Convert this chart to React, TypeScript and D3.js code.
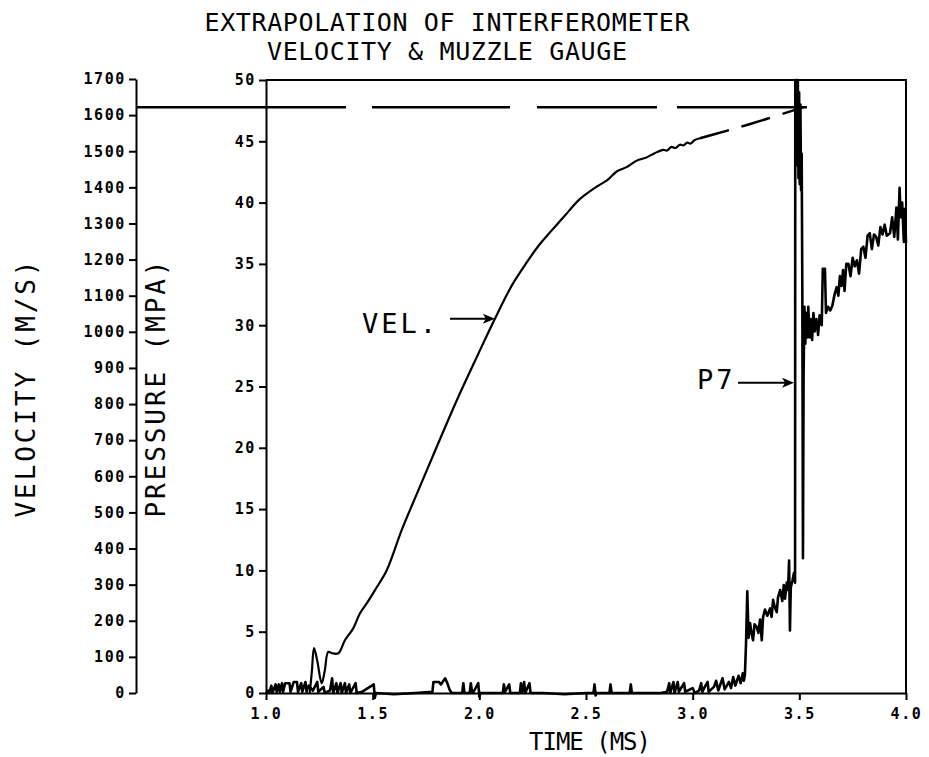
import * as d3 from "d3";
import React, { useEffect, useRef } from "react";

// time axis (ms) and tick values
const timeTicks = [1.0, 1.5, 2.0, 2.5, 3.0, 3.5, 4.0];
const pressureTicks = [0, 5, 10, 15, 20, 25, 30, 35, 40, 45, 50];
const velocityTicks = d3.range(0, 1800, 100);

// interferometer velocity (m/s), solid part
const velTime = [1.205, 1.215, 1.225, 1.24, 1.261, 1.275, 1.292, 1.31, 1.339, 1.37, 1.409, 1.44, 1.472, 1.511, 1.566, 1.636, 1.714, 1.8, 1.894, 1.988, 2.073, 2.152, 2.222, 2.284, 2.394, 2.472, 2.55, 2.6, 2.644, 2.69, 2.738, 2.78, 2.82, 2.862, 2.88, 2.9, 2.92, 2.94, 2.956, 2.975, 2.99, 3.01, 3.034];
const velValue = [0, 60, 124, 90, 27, 60, 114, 110, 110, 146, 179, 220, 248, 285, 340, 451, 561, 681, 810, 930, 1036, 1128, 1192, 1243, 1317, 1368, 1402, 1420, 1444, 1456, 1474, 1482, 1494, 1504, 1502, 1512, 1509, 1518, 1516, 1524, 1521, 1531, 1536];

// dashed extrapolation to the muzzle
const extTime = [3.034, 3.15, 3.25, 3.35, 3.45, 3.52];
const extValue = [1536, 1555, 1572, 1590, 1609, 1622];
const muzzleVelocity = 1622;

// muzzle gauge P7 (MPa)
const p7Time = [1.0, 1.01, 1.015, 1.025, 1.03, 1.045, 1.05, 1.06, 1.065, 1.075, 1.08, 1.09, 1.11, 1.115, 1.13, 1.145, 1.15, 1.165, 1.17, 1.185, 1.19, 1.2, 1.22, 1.24, 1.245, 1.27, 1.275, 1.3, 1.31, 1.315, 1.33, 1.335, 1.35, 1.355, 1.37, 1.375, 1.39, 1.395, 1.42, 1.425, 1.45, 1.505, 1.51, 1.515, 1.6, 1.7, 1.78, 1.785, 1.81, 1.82, 1.84, 1.85, 1.86, 1.87, 1.92, 1.925, 1.93, 1.955, 1.96, 1.965, 1.97, 1.995, 2.0, 2.005, 2.11, 2.115, 2.12, 2.14, 2.145, 2.19, 2.195, 2.2, 2.21, 2.215, 2.235, 2.24, 2.3, 2.4, 2.5, 2.535, 2.54, 2.545, 2.55, 2.61, 2.615, 2.62, 2.705, 2.71, 2.715, 2.85, 2.88, 2.89, 2.895, 2.91, 2.915, 2.93, 2.935, 2.96, 2.965, 3.0, 3.01, 3.03, 3.04, 3.045, 3.06, 3.07, 3.075, 3.1, 3.11, 3.12, 3.14, 3.15, 3.17, 3.18, 3.19, 3.2, 3.215, 3.225, 3.235, 3.24, 3.245, 3.25, 3.256, 3.262, 3.269, 3.276, 3.283, 3.29, 3.3, 3.308, 3.316, 3.324, 3.33, 3.339, 3.35, 3.363, 3.37, 3.377, 3.385, 3.394, 3.4, 3.41, 3.42, 3.427, 3.433, 3.441, 3.447, 3.452, 3.456, 3.46, 3.468, 3.475, 3.48, 3.481, 3.484, 3.487, 3.49, 3.493, 3.496, 3.499, 3.502, 3.505, 3.508, 3.511, 3.514, 3.517, 3.52, 3.524, 3.528, 3.532, 3.537, 3.542, 3.548, 3.553, 3.56, 3.566, 3.572, 3.58, 3.588, 3.595, 3.605, 3.61, 3.62, 3.625, 3.635, 3.645, 3.655, 3.665, 3.675, 3.683, 3.69, 3.698, 3.705, 3.712, 3.72, 3.73, 3.74, 3.75, 3.76, 3.77, 3.78, 3.79, 3.8, 3.81, 3.82, 3.83, 3.84, 3.85, 3.86, 3.87, 3.88, 3.89, 3.9, 3.91, 3.925, 3.935, 3.945, 3.955, 3.962, 3.97, 3.975, 3.982, 3.99, 3.995, 4.0];
const p7Value = [0, 0.2, 0, 0.6, 0, 0.7, 0.1, 0.7, 0.1, 0.8, 0.1, 0.8, 0.8, 0.1, 0.9, 0.9, 0.1, 0.8, 0.1, 0.9, 0.1, 0.6, 0.2, 0.9, 0.1, 0.5, 0, 0.2, 1.2, 0, 0.8, 0, 0.8, 0, 0.8, 0, 0.7, 0, 0.8, 0, 0.1, 0.7, -0.4, 0, -0.1, 0, 0.1, 0.9, 0.9, 0.7, 1.2, 0.8, 0.3, 0, 0, 0.8, 0, 0, 0.8, 0.2, 0, 0.8, -0.3, 0, 0, 0.7, 0.1, 0.7, 0, 0, 0.8, 0, 0.9, 0, 0.8, 0, 0, -0.1, 0, 0, 0.7, -0.2, 0, 0, 0.7, 0, 0, 0.7, 0, 0, 0.1, 0.8, 0, 0.9, 0, 0.9, 0.1, 0.8, 0.1, 0.4, 0, 0.2, 0.8, 0.1, 0.6, 0.9, 0.1, 0.5, 1.0, 0.2, 1.2, 0.3, 0.9, 0.4, 1.3, 0.6, 1.4, 0.8, 1.6, 1.0, 1.5, 4, 8.3, 4.5, 5.7, 4.9, 4.3, 5.6, 5.4, 4.9, 6.0, 4.3, 6.2, 6.8, 6.3, 6.9, 6.2, 7.6, 7.0, 6.6, 7.8, 8.4, 7.5, 8.8, 7.7, 9.0, 8.4, 10.8, 5.1, 8.6, 9.2, 9.8, 9.0, 50, 43, 50, 44, 50, 42, 49, 41.5, 48, 41, 44, 33, 11, 26, 31.5, 28.5, 31, 29, 31.5, 29, 30.5, 28.8, 31, 29.5, 30.5, 29.2, 30.8, 30, 34.6, 34.6, 31, 31.5, 31.2, 31.6, 32.5, 33.1, 32.4, 34, 33.2, 34.5, 32.8, 35, 35, 34, 35.5, 34.8, 35.3, 34.2, 36.2, 36.4, 35.5, 37.3, 37.5, 36.2, 37.4, 37.2, 36.5, 38, 37.4, 38.2, 37.3, 37.5, 38.8, 37.2, 39.6, 37, 41.2, 38.8, 40, 36.8, 39.5, 36.7];

const MONO = "'DejaVu Sans Mono', monospace";

const App = () => {
  const ref = useRef<SVGSVGElement | null>(null);

  useEffect(() => {
    const svg = d3.select(ref.current);
    svg.selectAll("*").remove();

    const x = d3.scaleLinear().domain([1, 4]).range([266, 906]);
    const p = d3.scaleLinear().domain([0, 50]).range([693, 80]);
    const v = d3.scaleLinear().domain([0, 1700]).range([693, 79]);
    const velAxisX = 136;

    const styleAxis = (g: any) => {
      g.select(".domain").attr("stroke", "#000").attr("stroke-width", 2);
      g.selectAll(".tick line").attr("stroke", "#000").attr("stroke-width", 2);
      g.selectAll(".tick text")
        .attr("fill", "#000")
        .style("font-family", MONO)
        .style("font-weight", "bold")
        .style("font-size", "15px")
        .style("letter-spacing", "1.6px");
    };

    // velocity axis
    svg.append("g")
      .attr("transform", `translate(${velAxisX},0)`)
      .call(d3.axisLeft(v).tickValues(velocityTicks).tickFormat(d3.format("d")).tickSize(7).tickSizeOuter(0).tickPadding(3))
      .call(styleAxis);

    // pressure axis
    svg.append("g")
      .attr("transform", `translate(${x(1)},0)`)
      .call(d3.axisLeft(p).tickValues(pressureTicks).tickFormat(d3.format("d")).tickSize(7).tickSizeOuter(0).tickPadding(3))
      .call(styleAxis);

    // time axis
    svg.append("g")
      .attr("transform", `translate(0,${p(0)})`)
      .call(d3.axisBottom(x).tickValues(timeTicks).tickFormat(d3.format(".1f")).tickSize(7).tickSizeOuter(0).tickPadding(8))
      .call(styleAxis);

    // frame top and right
    svg.append("path")
      .attr("d", `M${x(1)},${p(50)}H${x(4)}V${p(0)}`)
      .attr("fill", "none")
      .attr("stroke", "#000")
      .attr("stroke-width", 2);

    // muzzle velocity reference line
    const yMuzzle = v(muzzleVelocity);
    const x0 = velAxisX, x1 = x(3.55);
    svg.append("line")
      .attr("x1", x0).attr("x2", x1)
      .attr("y1", yMuzzle).attr("y2", yMuzzle)
      .attr("stroke", "#000")
      .attr("stroke-width", 2.5)
      .attr("stroke-dasharray", "210 26 138 27 120 20 130");

    // P7 trace
    const p7 = p7Time.map((t, i) => [t, p7Value[i]] as [number, number]);
    svg.append("path")
      .attr("d", d3.line().x((d) => x(d[0])).y((d) => p(d[1]))(p7) as string)
      .attr("fill", "none")
      .attr("stroke", "#000")
      .attr("stroke-width", 2.6)
      .attr("stroke-linejoin", "round");

    // velocity trace
    const vel = velTime.map((t, i) => [t, velValue[i]] as [number, number]);
    svg.append("path")
      .attr("d", d3.line().curve(d3.curveCatmullRom).x((d) => x(d[0])).y((d) => v(d[1]))(vel) as string)
      .attr("fill", "none")
      .attr("stroke", "#000")
      .attr("stroke-width", 2.2);

    const ext = extTime.map((t, i) => [t, extValue[i]] as [number, number]);
    svg.append("path")
      .attr("d", d3.line().curve(d3.curveCatmullRom).x((d) => x(d[0])).y((d) => v(d[1]))(ext) as string)
      .attr("fill", "none")
      .attr("stroke", "#000")
      .attr("stroke-width", 2.5)
      .attr("stroke-dasharray", "30 13");

    // annotations
    const arrow = (xa: number, xb: number, y: number) => {
      svg.append("line").attr("x1", xa).attr("x2", xb - 8).attr("y1", y).attr("y2", y)
        .attr("stroke", "#000").attr("stroke-width", 2);
      svg.append("path").attr("d", `M${xb},${y}L${xb - 12},${y - 5}L${xb - 9},${y}L${xb - 12},${y + 5}Z`)
        .attr("fill", "#000");
    };
    const label = (txt: string, xx: number, yy: number) =>
      svg.append("text").attr("x", xx).attr("y", yy).text(txt)
        .style("font-family", MONO).style("font-size", "27px").style("letter-spacing", "3px").attr("fill", "#000");

    label("VEL.", 362, 333);
    arrow(450, x(2.073), v(1036));
    label("P7", 697, 389);
    arrow(738, x(3.48) - 1, p(25.3));

    // titles
    const title = (txt: string, xx: number, yy: number, len: number, size: number) =>
      svg.append("text").attr("x", xx).attr("y", yy).attr("text-anchor", "middle")
        .attr("textLength", len).attr("lengthAdjust", "spacing")
        .text(txt).style("font-family", MONO).style("font-size", `${size}px`).attr("fill", "#000");

    title("EXTRAPOLATION OF INTERFEROMETER", 447, 31, 485, 25);
    title("VELOCITY & MUZZLE GAUGE", 447, 60, 360, 25);
    title("TIME (MS)", 590, 750, 122, 24);

    const rot = (txt: string, cx: number, cy: number) =>
      svg.append("text").attr("transform", `translate(${cx},${cy}) rotate(-90)`)
        .attr("text-anchor", "middle").attr("textLength", 257).attr("lengthAdjust", "spacing")
        .text(txt).style("font-family", MONO).style("font-size", "26px").attr("fill", "#000");
    rot("VELOCITY (M/S)", 35, 389);
    rot("PRESSURE (MPA)", 165, 389);
  }, []);

  return (
    <svg ref={ref} width={929} height={757}
      style={{ position: "absolute", left: 0, top: 0, background: "#fff" }} />
  );
};

export default App;
